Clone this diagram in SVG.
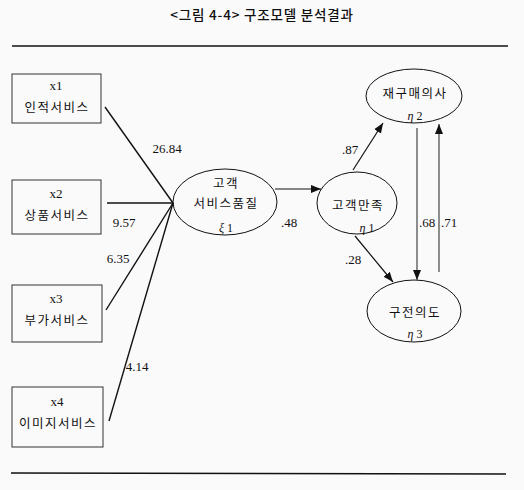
<svg xmlns="http://www.w3.org/2000/svg" width="524" height="490" viewBox="0 0 524 490">
<style>
.kr{font-family:"Noto Sans CJK KR","Noto Sans",sans-serif;font-size:12.5px;fill:#111;text-anchor:middle;letter-spacing:1.5px}
.num{font-family:"Liberation Serif",serif;font-size:13px;fill:#111;text-anchor:middle}
.gr{font-family:"Liberation Serif",serif;font-size:12px;fill:#111;text-anchor:middle}
.box{fill:none;stroke:#333;stroke-width:1}
.ell{fill:none;stroke:#111;stroke-width:1}
.ln{stroke:#111;stroke-width:1.4;fill:none}
.arr{stroke:#111;stroke-width:1.2;fill:none;marker-end:url(#ah)}
.rule{stroke:#111;stroke-width:1.6}
</style>
<defs>
<marker id="ah" viewBox="0 0 10 10" refX="10" refY="5" markerWidth="10" markerHeight="10" markerUnits="userSpaceOnUse" orient="auto">
<path d="M0,1 L10,5 L0,9 Z" fill="#111"/>
</marker>
</defs>
<rect width="524" height="490" fill="#fbfafb"/>
<text x="262" y="20" class="kr" style="font-size:13.5px;letter-spacing:0.8px;font-weight:500">&lt;그림 4-4&gt; 구조모델 분석결과</text>
<line x1="12" y1="46" x2="508" y2="46" class="rule"/>
<line x1="11" y1="473" x2="506" y2="474" class="rule"/>
<g id="x1"><rect x="12" y="74" width="89" height="49" class="box"/><text x="56" y="90" class="num">x1</text><text x="57" y="112" class="kr">인적서비스</text></g>
<g id="x2"><rect x="12" y="180" width="89" height="54" class="box"/><text x="56" y="198" class="num">x2</text><text x="57" y="220" class="kr">상품서비스</text></g>
<g id="x3"><rect x="12" y="285" width="90" height="57" class="box"/><text x="56" y="303" class="num">x3</text><text x="57" y="325" class="kr">부가서비스</text></g>
<g id="x4"><rect x="12" y="387" width="91" height="60" class="box"/><text x="57" y="406" class="num">x4</text><text x="58" y="428" class="kr">이미지서비스</text></g>
<g id="ksi1"><ellipse cx="225" cy="202" rx="52" ry="33" class="ell"/><text x="226" y="188" class="kr">고객</text><text x="226" y="208" class="kr">서비스품질</text><text x="226" y="232" class="gr"><tspan font-style="italic">ξ</tspan> 1</text></g>
<g id="eta1"><ellipse cx="357" cy="203" rx="40" ry="31" class="ell"/><text x="358" y="210" class="kr">고객만족</text><text x="367" y="232" class="gr"><tspan font-style="italic">η</tspan> 1</text></g>
<g id="eta2"><ellipse cx="414" cy="96" rx="48" ry="27" class="ell"/><text x="415" y="98" class="kr">재구매의사</text><text x="415" y="120" class="gr"><tspan font-style="italic">η</tspan> 2</text></g>
<g id="eta3"><ellipse cx="414" cy="311" rx="47" ry="31" class="ell"/><text x="415" y="317" class="kr">구전의도</text><text x="415" y="338" class="gr"><tspan font-style="italic">η</tspan> 3</text></g>
<g id="connectors">
<line x1="105" y1="107" x2="173" y2="203" class="ln"/>
<line x1="107" y1="203" x2="173" y2="203" class="ln"/>
<line x1="106" y1="310" x2="173" y2="203" class="ln"/>
<line x1="109" y1="421" x2="173" y2="203" class="ln"/>
<line x1="275" y1="189" x2="321" y2="189" class="arr"/>
<line x1="353" y1="170" x2="383" y2="123" class="arr"/>
<line x1="355" y1="236" x2="393" y2="282" class="arr"/>
<line x1="417" y1="128" x2="417" y2="280" class="arr" style="stroke:#444"/>
<line x1="439" y1="272" x2="439" y2="124" class="arr" style="stroke:#444"/>
</g>
<g id="labels">
<text x="167" y="153" class="num">26.84</text>
<text x="124" y="227" class="num">9.57</text>
<text x="118" y="263" class="num">6.35</text>
<text x="137" y="371" class="num">4.14</text>
<text x="289" y="227" class="num">.48</text>
<text x="350" y="154" class="num">.87</text>
<text x="353" y="264" class="num">.28</text>
<text x="427" y="227" class="num">.68</text>
<text x="449" y="227" class="num">.71</text>
</g>
</svg>
